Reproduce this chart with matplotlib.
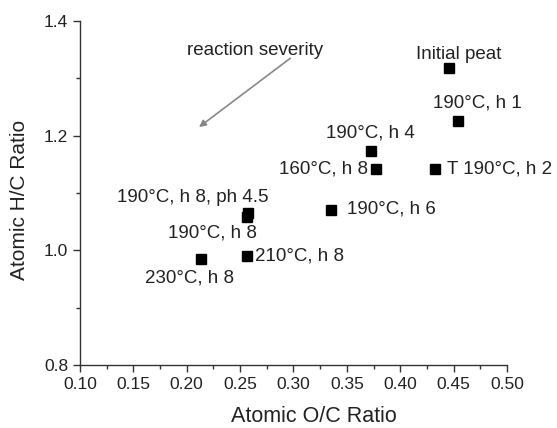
import numpy as np
import matplotlib.pyplot as plt
from matplotlib.ticker import MultipleLocator

plt.rcParams['font.family'] = ['Liberation Sans', 'DejaVu Sans']

# sample names and atomic ratios
names = ['Initial peat', '190°C, h 1', '190°C, h 4', '160°C, h 8', 'T 190°C, h 2',
         '190°C, h 6', '190°C, h 8, ph 4.5', '190°C, h 8', '210°C, h 8', '230°C, h 8']
oc = [0.446, 0.454, 0.373, 0.377, 0.433, 0.335, 0.257, 0.256, 0.256, 0.213]
hc = [1.318, 1.226, 1.174, 1.142, 1.142, 1.071, 1.065, 1.058, 0.990, 0.985]

# label anchor positions (data coords) and alignment
lab_x = [0.455, 0.4725, 0.372, 0.370, 0.444, 0.350, 0.2055, 0.2237, 0.264, 0.2022]
lab_y = [1.341, 1.257, 1.2045, 1.142, 1.142, 1.072, 1.093, 1.030, 0.990, 0.951]
lab_ha = ['center', 'center', 'center', 'right', 'left', 'left', 'center', 'center', 'left', 'center']

txt_col = '#222222'

fig = plt.figure(figsize=(5.57, 4.28), dpi=100)
ax = fig.add_axes([0.1436, 0.1472, 0.7666, 0.8037])

ax.plot(oc, hc, 's', color='black', ms=6.7, mec='black')

for n, x, y, ha in zip(names, lab_x, lab_y, lab_ha):
    ax.text(x, y, n, ha=ha, va='center', fontsize=13.5, color=txt_col)

ax.annotate('', xy=(0.2115, 1.215), xytext=(0.297, 1.335),
            arrowprops=dict(arrowstyle='-|>', color='#888888', lw=1.2,
                            mutation_scale=10, shrinkA=0, shrinkB=0))
ax.text(0.264, 1.349, 'reaction severity', ha='center', va='center',
        fontsize=13.5, color=txt_col)

ax.set_xlim(0.10, 0.50)
ax.set_ylim(0.8, 1.4)
ax.xaxis.set_major_locator(MultipleLocator(0.05))
ax.xaxis.set_minor_locator(MultipleLocator(0.025))
ax.yaxis.set_major_locator(MultipleLocator(0.2))
ax.yaxis.set_minor_locator(MultipleLocator(0.1))
ax.set_xticklabels(['%.2f' % v for v in ax.get_xticks()])
ax.set_yticklabels(['%.1f' % v for v in ax.get_yticks()])

for s in ['top', 'right']:
    ax.spines[s].set_visible(False)
for s in ['left', 'bottom']:
    ax.spines[s].set_color('#333333')
    ax.spines[s].set_linewidth(1.0)
ax.tick_params(which='major', direction='out', length=5, width=1, colors='#333333',
               labelsize=12.5, labelcolor=txt_col)
ax.tick_params(which='minor', direction='out', length=3, width=1, colors='#333333')

fig.text(314 / 557, 1 - 422 / 428, 'Atomic O/C Ratio', ha='center', va='baseline',
         fontsize=15.5, color=txt_col)
fig.text(20 / 557, 1 - 200 / 428, 'Atomic H/C Ratio', ha='center', va='center',
         rotation=90, fontsize=15, color=txt_col)

fig.savefig('out.png', dpi=100)
